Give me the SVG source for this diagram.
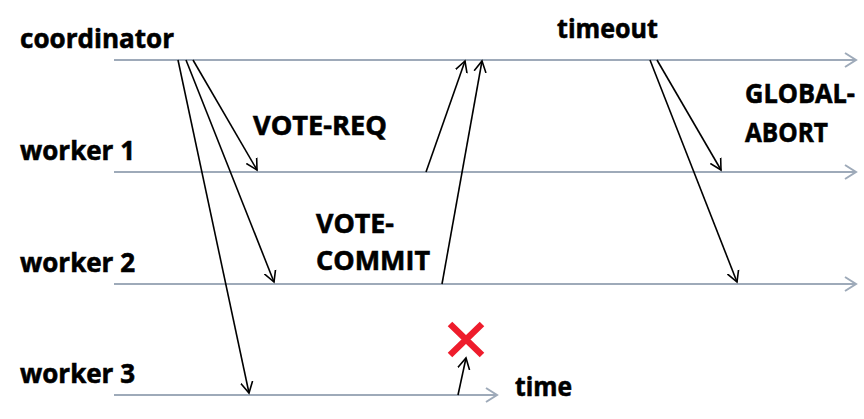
<svg xmlns="http://www.w3.org/2000/svg" width="864" height="419" viewBox="0 0 864 419">
<style>
.lbl{font-family:"Open Sans","Liberation Sans",sans-serif;font-weight:bold;font-size:27px;fill:#000;stroke:#000;stroke-width:0.6}
.tl{stroke:#9eaab9;stroke-width:2;fill:none}
.msg{stroke:#000;stroke-width:1.6;fill:none}
</style>
<defs>
<marker id="ah" markerUnits="userSpaceOnUse" markerWidth="14" markerHeight="14" refX="11" refY="6" orient="auto" viewBox="0 0 14 12">
<path d="M0,0 L11,6 L0,12" fill="none" stroke="#000" stroke-width="1.6"/>
</marker>
<marker id="gh" markerUnits="userSpaceOnUse" markerWidth="14" markerHeight="16" refX="12" refY="7" orient="auto" viewBox="0 0 14 14">
<path d="M1,0 L12,7 L1,14" fill="none" stroke="#9eaab9" stroke-width="2"/>
</marker>
</defs>
<g id="timelines">
<line class="tl" x1="114" y1="60" x2="856" y2="60" marker-end="url(#gh)"/>
<line class="tl" x1="114" y1="172" x2="856" y2="172" marker-end="url(#gh)"/>
<line class="tl" x1="114" y1="284" x2="856" y2="284" marker-end="url(#gh)"/>
<line class="tl" x1="114" y1="395" x2="497" y2="395" marker-end="url(#gh)"/>
</g>
<g id="coordinator"><text class="lbl" x="20" y="48" textLength="154" lengthAdjust="spacingAndGlyphs">coordinator</text></g>
<g id="worker1"><text class="lbl" x="20" y="160" textLength="115" lengthAdjust="spacingAndGlyphs">worker 1</text></g>
<g id="worker2"><text class="lbl" x="20" y="272" textLength="115" lengthAdjust="spacingAndGlyphs">worker 2</text></g>
<g id="worker3"><text class="lbl" x="20" y="383" textLength="115" lengthAdjust="spacingAndGlyphs">worker 3</text></g>
<g id="labels">
<text class="lbl" x="253" y="135" textLength="134" lengthAdjust="spacingAndGlyphs">VOTE-REQ</text>
<text class="lbl" x="316" y="233" textLength="78" lengthAdjust="spacingAndGlyphs">VOTE-</text>
<text class="lbl" x="316" y="270" textLength="114" lengthAdjust="spacingAndGlyphs">COMMIT</text>
<text class="lbl" x="557" y="38" textLength="101" lengthAdjust="spacingAndGlyphs">timeout</text>
<text class="lbl" x="745" y="103" textLength="110" lengthAdjust="spacingAndGlyphs">GLOBAL-</text>
<text class="lbl" x="745" y="142" textLength="83" lengthAdjust="spacingAndGlyphs">ABORT</text>
<text class="lbl" x="515" y="396" textLength="57" lengthAdjust="spacingAndGlyphs">time</text>
</g>
<g id="connectors">
<line class="msg" x1="193" y1="60" x2="257" y2="170" marker-end="url(#ah)"/>
<line class="msg" x1="186" y1="60" x2="274" y2="282" marker-end="url(#ah)"/>
<line class="msg" x1="178" y1="60" x2="249" y2="393" marker-end="url(#ah)"/>
<line class="msg" x1="426" y1="172" x2="465" y2="61" marker-end="url(#ah)"/>
<line class="msg" x1="442" y1="284" x2="482" y2="61" marker-end="url(#ah)"/>
<line class="msg" x1="458" y1="395" x2="466" y2="358" marker-end="url(#ah)"/>
<line class="msg" x1="657" y1="60" x2="721" y2="170" marker-end="url(#ah)"/>
<line class="msg" x1="650" y1="60" x2="737" y2="282" marker-end="url(#ah)"/>
</g>
<g id="failure">
<path d="M450,324 L482,355 M482,324 L450,355" stroke="#ee1c2c" stroke-width="6.5" fill="none"/>
</g>
</svg>
